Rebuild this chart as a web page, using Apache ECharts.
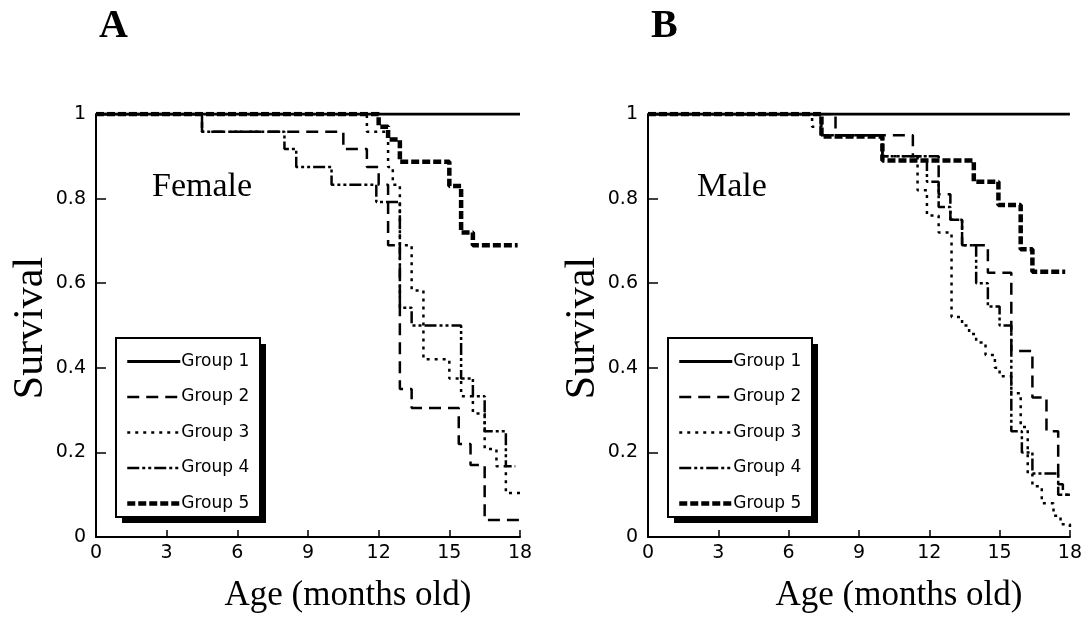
<!DOCTYPE html>
<html>
<head>
<meta charset="utf-8">
<script src="https://cdn.jsdelivr.net/npm/echarts@6/dist/echarts.min.js"></script>
<style>
  html, body { margin: 0; padding: 0; background: #fff; }
  #chart { width: 1085px; height: 618px; }
</style>
</head>
<body>
<div id="chart"></div>
<script>
// ---- data (month, survival) ----
const groupNames = ['Group 1', 'Group 2', 'Group 3', 'Group 4', 'Group 5'];
const xTicks = [0, 3, 6, 9, 12, 15, 18];
const yTicks = [0, 0.2, 0.4, 0.6, 0.8, 1];

const femaleG1 = [[0, 1], [18, 1]];
const femaleG2 = [[0, 1], [4.5, 0.958], [10.5, 0.917], [11.5, 0.875], [12.0, 0.833], [12.4, 0.69], [12.9, 0.35], [13.4, 0.305], [15.4, 0.22], [15.9, 0.17], [16.5, 0.04], [18, 0.04]];
const femaleG3 = [[0, 1], [11.5, 0.958], [12.4, 0.875], [12.6, 0.833], [12.9, 0.69], [13.4, 0.583], [13.9, 0.42], [15.0, 0.375], [15.5, 0.333], [16.0, 0.292], [16.5, 0.208], [17.0, 0.167], [17.4, 0.104], [18, 0.104]];
const femaleG4 = [[0, 1], [4.5, 0.958], [8.0, 0.917], [8.5, 0.875], [10.0, 0.833], [11.9, 0.792], [12.9, 0.542], [13.4, 0.5], [15.5, 0.375], [16.0, 0.333], [16.5, 0.25], [17.4, 0.167], [17.8, 0.167]];
const femaleG5 = [[0, 1], [12.0, 0.97], [12.4, 0.94], [12.9, 0.887], [15.0, 0.83], [15.5, 0.72], [16.0, 0.69], [17.9, 0.69]];

const maleG1 = [[0, 1], [18, 1]];
const maleG2 = [[0, 1], [8.0, 0.95], [11.3, 0.9], [12.4, 0.81], [12.9, 0.75], [13.4, 0.69], [14.5, 0.625], [15.5, 0.44], [16.4, 0.33], [17.0, 0.25], [17.5, 0.125], [17.7, 0.1], [18, 0.1]];
const maleG3 = [[0, 1], [7.0, 0.97], [7.4, 0.95], [10.0, 0.9], [11.5, 0.82], [11.9, 0.76], [12.4, 0.72], [12.95, 0.52], [13.4, 0.5], [13.7, 0.48], [14.0, 0.46], [14.4, 0.43], [14.8, 0.4], [15.0, 0.38], [15.5, 0.34], [15.9, 0.26], [16.2, 0.15], [16.4, 0.12], [16.8, 0.08], [17.3, 0.05], [17.6, 0.03], [18, 0.02]];
const maleG4 = [[0, 1], [7.4, 0.95], [10.0, 0.9], [11.9, 0.84], [12.4, 0.78], [12.9, 0.75], [13.4, 0.69], [14.0, 0.6], [14.5, 0.545], [15.0, 0.5], [15.5, 0.25], [15.95, 0.2], [16.4, 0.15], [17.5, 0.1], [18, 0.1]];
const maleG5 = [[0, 1], [7.4, 0.947], [10.0, 0.89], [13.9, 0.84], [14.95, 0.785], [15.9, 0.68], [16.4, 0.627], [17.8, 0.627]];

const femaleData = [femaleG1, femaleG2, femaleG3, femaleG4, femaleG5];
const maleData = [maleG1, maleG2, maleG3, maleG4, maleG5];

// ---- styles ----
const lineStyles = [
  { color: '#000', width: 3, type: 'solid' },
  { color: '#000', width: 2.5, type: [12, 7] },
  { color: '#000', width: 2.5, type: [3, 5] },
  { color: '#000', width: 2.5, type: [12, 3, 3, 3, 3, 3] },
  { color: '#000', width: 4.5, type: [8, 3] }
];

const serif = '"Liberation Serif", "Times New Roman", serif';
const sans = '"DejaVu Sans", Verdana, sans-serif';

function makeAxes(gridIndex) {
  const x = {
    type: 'value', gridIndex, min: xTicks[0], max: xTicks[xTicks.length - 1], interval: 3,
    axisLine: { show: true, lineStyle: { color: '#000', width: 2 } },
    axisTick: { show: true, inside: true, length: 7, lineStyle: { color: '#000', width: 1.5 } },
    axisLabel: { color: '#000', fontFamily: sans, fontSize: 19, margin: 7 },
    splitLine: { show: false },
    name: 'Age (months old)', nameLocation: 'middle', nameGap: 41,
    nameTextStyle: { fontFamily: serif, fontSize: 35, color: '#000', padding: [0, 0, 0, 80] }
  };
  const y = {
    type: 'value', gridIndex, min: yTicks[0], max: yTicks[yTicks.length - 1], interval: 0.2,
    axisLine: { show: true, lineStyle: { color: '#000', width: 2 } },
    axisTick: { show: true, inside: true, length: 10, lineStyle: { color: '#000', width: 1.5 } },
    axisLabel: { color: '#000', fontFamily: sans, fontSize: 19, margin: 10 },
    splitLine: { show: false }
  };
  return { x, y };
}

const axA = makeAxes(0), axB = makeAxes(1);

const series = [];
[femaleData, maleData].forEach((set, gi) => {
  set.forEach((d, i) => {
    series.push({
      name: groupNames[i], type: 'line', step: 'end',
      xAxisIndex: gi, yAxisIndex: gi,
      data: d, symbol: 'none', showSymbol: false,
      lineStyle: lineStyles[i], itemStyle: { color: '#000' },
      z: 3
    });
  });
});

function makeLegend(left) {
  return {
    orient: 'vertical', left, top: 353,
    data: groupNames,
    itemWidth: 53, itemHeight: 14, itemGap: 18.5,
    padding: 0,
    z: 20,
    itemStyle: { color: 'rgba(0,0,0,0)', borderWidth: 0 },
    lineStyle: { width: 'inherit', type: 'inherit', color: '#000' },
    textStyle: { color: '#000', fontFamily: sans, fontSize: 17, padding: [0, 0, 0, -4] },
    selectedMode: false
  };
}

function legendBox(left) {
  return [
    { type: 'rect', z: 15, shape: { x: left + 6, y: 344, width: 144, height: 179 }, style: { fill: '#000' } },
    { type: 'rect', z: 16, shape: { x: left, y: 338, width: 144, height: 179 }, style: { fill: '#fff', stroke: '#000', lineWidth: 2 } }
  ];
}

const option = {
  animation: false,
  backgroundColor: '#fff',
  grid: [
    { left: 96, top: 114, width: 424, height: 424 },
    { left: 648, top: 114, width: 424, height: 424 }
  ],
  xAxis: [axA.x, axB.x],
  yAxis: [axA.y, axB.y],
  legend: [makeLegend(125), makeLegend(677)],
  series,
  graphic: [
    ...legendBox(116),
    ...legendBox(668),
    { type: 'text', left: 99, top: 7, style: { text: 'A', font: 'bold 40px ' + serif, fill: '#000' } },
    { type: 'text', left: 651, top: 7, style: { text: 'B', font: 'bold 40px ' + serif, fill: '#000' } },
    { type: 'text', left: 152, top: 170, style: { text: 'Female', font: '34px ' + serif, fill: '#000' } },
    { type: 'text', left: 697, top: 170, style: { text: 'Male', font: '34px ' + serif, fill: '#000' } },
    { type: 'text', x: 31, y: 328, rotation: Math.PI / 2, style: { text: 'Survival', font: '42px ' + serif, fill: '#000', textAlign: 'center', textVerticalAlign: 'middle' } },
    { type: 'text', x: 583, y: 328, rotation: Math.PI / 2, style: { text: 'Survival', font: '42px ' + serif, fill: '#000', textAlign: 'center', textVerticalAlign: 'middle' } }
  ]
};

const chart = echarts.init(document.getElementById('chart'), null, { renderer: 'canvas' });
chart.setOption(option);
</script>
</body>
</html>
